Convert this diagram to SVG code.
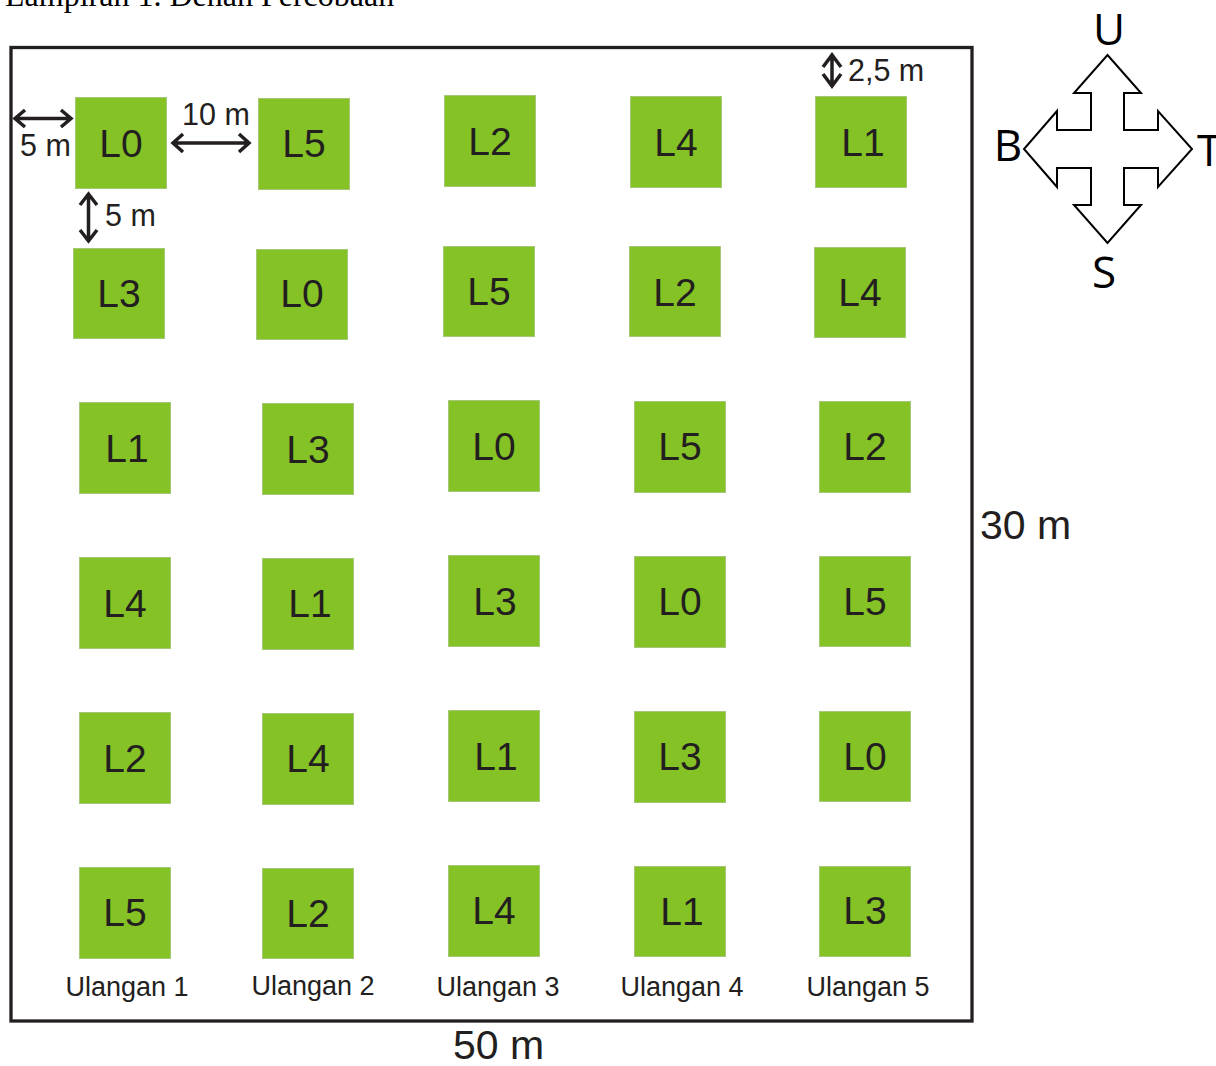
<svg xmlns="http://www.w3.org/2000/svg" width="1216" height="1066" viewBox="0 0 1216 1066">
<style>
.p{fill:#84c225;stroke:#a4c878;stroke-width:1;transform:translate(.5px,.5px)}
.l{font:39px "Liberation Sans",Arial,sans-serif;fill:#231f20;text-anchor:middle}
.d{font:30.500px "Liberation Sans",Arial,sans-serif;fill:#231f20}
.u{font:27px "Liberation Sans",Arial,sans-serif;fill:#231f20;text-anchor:middle}
.m{font:41px "Liberation Sans",Arial,sans-serif;fill:#231f20}
.c{font:44px "Open Sans","Noto Sans",sans-serif;fill:#000;text-anchor:middle}
.a{fill:none;stroke:#231f20;stroke-width:3.500}
</style>
<rect width="1216" height="1066" fill="#fff"/>
<text x="5" y="6" font-family="Liberation Serif,serif" font-size="32" fill="#000">Lampiran 1. Denah Percobaan</text>
<rect id="field" x="11" y="47.500" width="961" height="973.500" fill="none" stroke="#231f20" stroke-width="3.300"/>
<g id="n1"><rect class="p" x="75" y="97" width="91" height="91"/><text class="l" x="121" y="157">L0</text></g>
<g id="n2"><rect class="p" x="73" y="248" width="91" height="90"/><text class="l" x="119" y="307">L3</text></g>
<g id="n3"><rect class="p" x="79" y="402" width="91" height="91"/><text class="l" x="127" y="462">L1</text></g>
<g id="n4"><rect class="p" x="79" y="557" width="91" height="91"/><text class="l" x="125" y="617">L4</text></g>
<g id="n5"><rect class="p" x="79" y="712" width="91" height="91"/><text class="l" x="125" y="772">L2</text></g>
<g id="n6"><rect class="p" x="79" y="867" width="91" height="91"/><text class="l" x="125" y="926">L5</text></g>
<g id="n7"><rect class="p" x="258" y="98" width="91" height="91"/><text class="l" x="304" y="157">L5</text></g>
<g id="n8"><rect class="p" x="256" y="249" width="91" height="90"/><text class="l" x="302" y="307">L0</text></g>
<g id="n9"><rect class="p" x="262" y="403" width="91" height="91"/><text class="l" x="308" y="463">L3</text></g>
<g id="n10"><rect class="p" x="262" y="558" width="91" height="91"/><text class="l" x="310" y="617">L1</text></g>
<g id="n11"><rect class="p" x="262" y="713" width="91" height="91"/><text class="l" x="308" y="772">L4</text></g>
<g id="n12"><rect class="p" x="262" y="868" width="91" height="90"/><text class="l" x="308" y="927">L2</text></g>
<g id="n13"><rect class="p" x="444" y="95" width="91" height="91"/><text class="l" x="490" y="155">L2</text></g>
<g id="n14"><rect class="p" x="443" y="246" width="91" height="90"/><text class="l" x="489" y="305">L5</text></g>
<g id="n15"><rect class="p" x="448" y="400" width="91" height="91"/><text class="l" x="494" y="460">L0</text></g>
<g id="n16"><rect class="p" x="448" y="555" width="91" height="91"/><text class="l" x="495" y="615">L3</text></g>
<g id="n17"><rect class="p" x="448" y="710" width="91" height="91"/><text class="l" x="496" y="770">L1</text></g>
<g id="n18"><rect class="p" x="448" y="865" width="91" height="91"/><text class="l" x="494" y="924">L4</text></g>
<g id="n19"><rect class="p" x="630" y="96" width="91" height="91"/><text class="l" x="676" y="156">L4</text></g>
<g id="n20"><rect class="p" x="629" y="246" width="91" height="90"/><text class="l" x="675" y="306">L2</text></g>
<g id="n21"><rect class="p" x="634" y="401" width="91" height="91"/><text class="l" x="680" y="460">L5</text></g>
<g id="n22"><rect class="p" x="634" y="556" width="91" height="91"/><text class="l" x="680" y="615">L0</text></g>
<g id="n23"><rect class="p" x="634" y="711" width="91" height="91"/><text class="l" x="680" y="770">L3</text></g>
<g id="n24"><rect class="p" x="634" y="866" width="91" height="90"/><text class="l" x="682" y="925">L1</text></g>
<g id="n25"><rect class="p" x="815" y="96" width="91" height="91"/><text class="l" x="863" y="156">L1</text></g>
<g id="n26"><rect class="p" x="814" y="247" width="91" height="90"/><text class="l" x="860" y="306">L4</text></g>
<g id="n27"><rect class="p" x="819" y="401" width="91" height="91"/><text class="l" x="865" y="460">L2</text></g>
<g id="n28"><rect class="p" x="819" y="556" width="91" height="90"/><text class="l" x="865" y="615">L5</text></g>
<g id="n29"><rect class="p" x="819" y="711" width="91" height="90"/><text class="l" x="865" y="770">L0</text></g>
<g id="n30"><rect class="p" x="819" y="866" width="91" height="90"/><text class="l" x="865" y="924">L3</text></g>
<g id="connectors">
<path class="a" d="M15 118.500H71M25 110L15 118.500L25 127M61 110L71 118.500L61 127"/>
<path class="a" d="M173 143H249M183 134L173 143L183 152M239 134L249 143L239 152"/>
<path class="a" d="M88.500 194V241M80 205L88.500 194L97 205M80 230L88.500 241L97 230"/>
<path class="a" d="M832 55V86M823 67L832 55L841 67M823 74L832 86L841 74"/>
</g>
<g id="labels">
<text class="d" x="20" y="156">5 m</text>
<text class="d" x="182" y="125">10 m</text>
<text class="d" x="105" y="226">5 m</text>
<text class="d" x="848" y="81">2,5 m</text>
<text class="u" x="127" y="996">Ulangan 1</text>
<text class="u" x="313" y="995">Ulangan 2</text>
<text class="u" x="498" y="996">Ulangan 3</text>
<text class="u" x="682" y="996">Ulangan 4</text>
<text class="u" x="868" y="996">Ulangan 5</text>
<text class="m" x="980" y="539">30 m</text>
<text class="m" x="453" y="1059">50 m</text>
</g>
<g id="compass">
<path d="M1107.500 55L1141 93H1124V130H1158V111L1192 149L1158 187V168H1124V205H1141L1107.500 243L1074 205H1091V168H1057V187L1024 149L1057 111V130H1091V93H1074Z" fill="#fff" stroke="#000" stroke-width="2"/>
<text class="c" x="1109" y="45">U</text>
<text class="c" x="1008" y="161">B</text>
<text class="c" x="1209" y="166">T</text>
<text class="c" x="1104" y="288">S</text>
</g>
</svg>
